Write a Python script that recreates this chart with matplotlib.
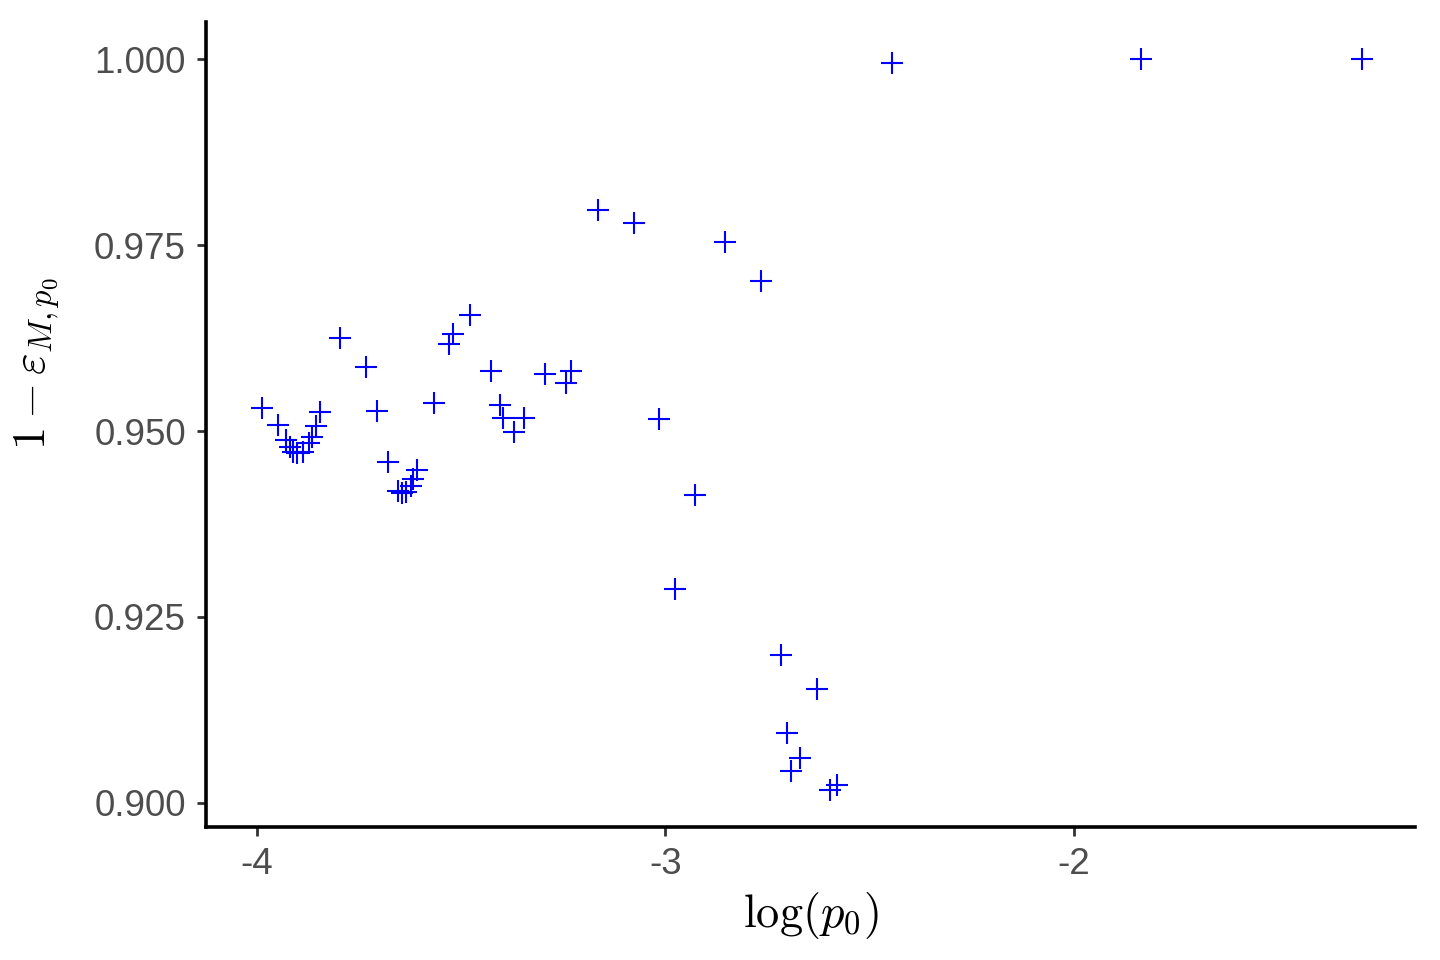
import numpy as np
import matplotlib
matplotlib.use('Agg')
import matplotlib.pyplot as plt

# log(p0) 与 1 - eps 的取值
log_p0 = [-3.988, -3.949, -3.929, -3.918, -3.910, -3.902, -3.887, -3.872, -3.865, -3.855,
          -3.845, -3.796, -3.733, -3.706, -3.679, -3.653, -3.645, -3.635, -3.623, -3.617,
          -3.608, -3.566, -3.529, -3.520, -3.478, -3.426, -3.404, -3.396, -3.370, -3.346,
          -3.294, -3.244, -3.231, -3.165, -3.077, -3.015, -2.977, -2.927, -2.854, -2.765,
          -2.717, -2.702, -2.692, -2.670, -2.628, -2.597, -2.580, -2.445, -1.835, -1.295]
one_minus_eps = [0.9531, 0.9508, 0.9488, 0.9479, 0.9472, 0.9470, 0.9472, 0.9484, 0.9492, 0.9507,
                 0.9525, 0.9625, 0.9586, 0.9527, 0.9459, 0.9420, 0.9417, 0.9418, 0.9426, 0.9435,
                 0.9448, 0.9538, 0.9617, 0.9631, 0.9656, 0.9581, 0.9535, 0.9518, 0.9499, 0.9517,
                 0.9577, 0.9565, 0.9581, 0.9797, 0.9780, 0.9516, 0.9288, 0.9414, 0.9754, 0.9702,
                 0.9199, 0.9094, 0.9043, 0.9061, 0.9153, 0.9017, 0.9024, 0.9995, 1.0000, 1.0000]

x_ticks = [-4, -3, -2]
y_ticks = [0.900, 0.925, 0.950, 0.975, 1.000]

plt.rcParams['mathtext.fontset'] = 'cm'
plt.rcParams['font.family'] = ['Liberation Sans', 'DejaVu Sans']

fig = plt.figure(figsize=(14.4, 9.6), dpi=100)
ax = fig.add_axes([0.1431, 0.1389, 0.9826 - 0.1431, 0.977 - 0.1389])

ax.plot(log_p0, one_minus_eps, linestyle='none', marker='+', color='#0000FF',
        markersize=16.5, markeredgewidth=1.5)

ax.set_xlim(-4.124, -1.165)
ax.set_ylim(0.8968, 1.005)
ax.set_xticks(x_ticks)
ax.set_xticklabels([str(v) for v in x_ticks])
ax.set_yticks(y_ticks)
ax.set_yticklabels([f'{v:.3f}' for v in y_ticks])

for side in ['top', 'right']:
    ax.spines[side].set_visible(False)
for side in ['left', 'bottom']:
    ax.spines[side].set_linewidth(2.6)
    ax.spines[side].set_color('black')

ax.tick_params(axis='both', direction='out', length=6.5, width=2, color='#333333',
               labelcolor='#4D4D4D', labelsize=26.5, pad=8)

ax.set_xlabel(r'$\log(p_0)$', fontsize=33.5, labelpad=6)
ax.set_ylabel(r'$1-\varepsilon_{M,p_0}$', fontsize=33.5)
# 纵轴标题在原图中略偏上
ax.yaxis.set_label_coords(-0.119, 0.576)

fig.savefig('out.png', dpi=100)
